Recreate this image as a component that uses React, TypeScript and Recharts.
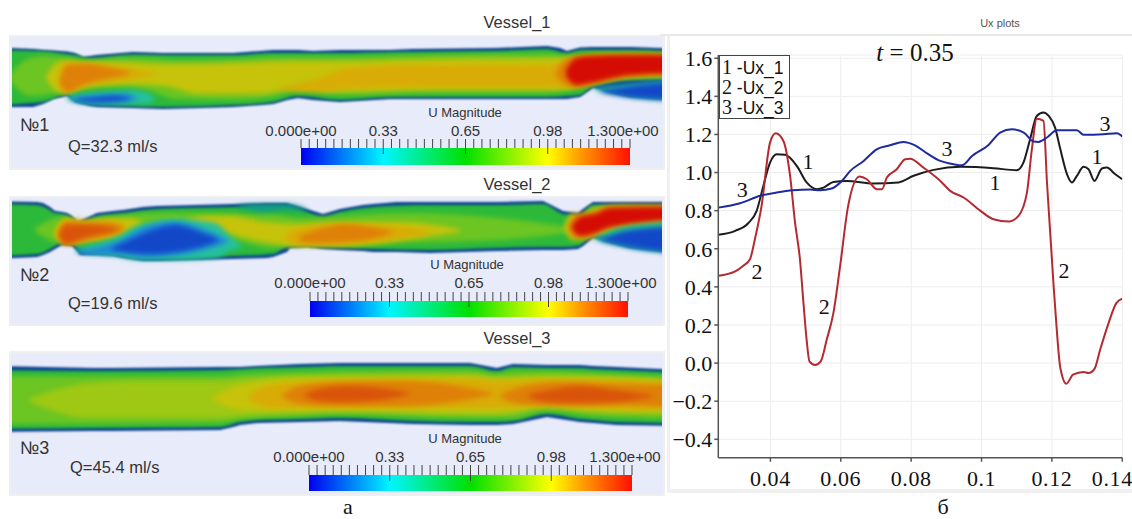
import React from 'react';
import {
  ComposedChart, Area, Line, XAxis, YAxis, CartesianGrid, ReferenceArea, ReferenceDot, Legend,
} from 'recharts';

// [t, Ux]
const ux1 = [
  [0.0252, 0.673], [0.03, 0.694], [0.0337, 0.734], [0.0361, 0.799], [0.038, 0.93], [0.0399, 1.052], [0.0418, 1.096],
  [0.0442, 1.093], [0.0475, 1.035], [0.0503, 0.948], [0.0532, 0.913], [0.0551, 0.921], [0.0579, 0.951], [0.0617, 0.956],
  [0.0693, 0.942], [0.0764, 0.948], [0.0807, 0.983], [0.0864, 1.014], [0.094, 1.03], [0.1034, 1.023], [0.11, 1.012],
  [0.1119, 1.052], [0.1138, 1.175], [0.1157, 1.297], [0.1176, 1.315], [0.1191, 1.297], [0.1209, 1.236], [0.1224, 1.122],
  [0.1243, 0.991], [0.1257, 0.948], [0.1271, 0.983], [0.129, 1.03], [0.1304, 1.017], [0.1321, 0.956], [0.1342, 1.021],
  [0.1356, 1.026], [0.138, 0.991], [0.14, 0.965],
];
const ux2 = [
  [0.0252, 0.458], [0.03, 0.481], [0.0323, 0.511], [0.0342, 0.545], [0.0356, 0.65], [0.0375, 0.825], [0.0399, 1.157],
  [0.0415, 1.206], [0.0437, 1.166], [0.0456, 0.983], [0.047, 0.738], [0.0484, 0.545], [0.0494, 0.315], [0.0503, 0.122],
  [0.0511, 0.009], [0.0527, -0.01], [0.0543, 0.009], [0.056, 0.122], [0.0579, 0.262], [0.0598, 0.507], [0.0621, 0.825],
  [0.0653, 0.979], [0.0674, 0.965], [0.0702, 0.913], [0.0717, 0.913], [0.0731, 0.974], [0.0759, 1.017], [0.0783, 1.07],
  [0.0797, 1.073], [0.0835, 1.026], [0.0883, 0.956], [0.0911, 0.904], [0.0949, 0.869], [0.0997, 0.799], [0.1034, 0.755],
  [0.1077, 0.743], [0.1105, 0.773], [0.1129, 0.895], [0.1143, 1.122], [0.1157, 1.283], [0.1176, 1.271], [0.1186, 0.948],
  [0.12, 0.545], [0.1205, 0.402], [0.1211, 0.245], [0.1224, -0.026], [0.1241, -0.108], [0.126, -0.061], [0.129, -0.047],
  [0.1304, -0.052], [0.1321, -0.03], [0.1337, 0.07], [0.1361, 0.21], [0.1383, 0.315], [0.14, 0.338],
];
const ux3 = [
  [0.0252, 0.816], [0.0314, 0.839], [0.0371, 0.878], [0.0418, 0.895], [0.0465, 0.907], [0.0513, 0.911], [0.0541, 0.907],
  [0.0574, 0.916], [0.0603, 0.956], [0.0627, 1.009], [0.0665, 1.061], [0.0702, 1.122], [0.074, 1.143], [0.0778, 1.161],
  [0.0811, 1.143], [0.0845, 1.101], [0.0883, 1.061], [0.092, 1.044], [0.0944, 1.038], [0.0973, 1.087], [0.102, 1.145],
  [0.1053, 1.21], [0.1086, 1.227], [0.112, 1.21], [0.1148, 1.163], [0.1162, 1.161], [0.1186, 1.184], [0.1214, 1.222],
  [0.1271, 1.222], [0.129, 1.198], [0.1347, 1.201], [0.1385, 1.206], [0.14, 1.189],
];
const seriesNames = ['1-Ux_1', '2-Ux_2', '3-Ux_3'];
const xTicks = [0.04, 0.06, 0.08, 0.1, 0.12, 0.14];
const yTicks = [1.6, 1.4, 1.2, 1.0, 0.8, 0.6, 0.4, 0.2, 0, -0.2, -0.4];
// curve number, t, Ux
const curveLabels: [string, number, number][] = [
  ['1', 0.0507, 1.059], ['3', 0.032, 0.912], ['3', 0.0902, 1.128], ['1', 0.1038, 0.949], ['1', 0.1328, 1.086],
  ['3', 0.1351, 1.259], ['2', 0.0362, 0.482], ['2', 0.0553, 0.298], ['2', 0.1234, 0.487],
];

const scaleLabels = ['0.000e+00', '0.33', '0.65', '0.98', '1.300e+00'];
const scaleTicks = [
  0, 0.0325, 0.065, 0.0975, 0.13, 0.1625, 0.195, 0.2275, 0.26, 0.2925, 0.325, 0.3575, 0.39, 0.4225, 0.455, 0.4875, 0.52,
  0.5525, 0.585, 0.6175, 0.65, 0.6825, 0.715, 0.7475, 0.78, 0.8125, 0.845, 0.8775, 0.91, 0.9425, 0.975, 1.0075, 1.04,
  1.0725, 1.105, 1.1375, 1.17, 1.2025, 1.235, 1.2675, 1.3,
];

// velocity field bands: [station, upper edge, lower edge]
const v1Wall = [[-8,47.5,107],[33,49,107],[43,50,104],[53,50.5,99],[67,51.5,96],[75,53,102],[83,57,104],[90,56,106],[97,55,107],[133,52,108],[163,53,109],[233,53,107],[273,50,104],[287,50,100],[298,50,98],[313,51,100],[340,50,102],[390,50,99],[413,49,99],[497,48,99],[547,46,99],[560,48,99],[567,51,99],[580,47.5,97],[593,47,88],[607,47,92],[630,47,97],[682,49,101]];
const v1Green = [[-8,50,105],[43,51,102],[60,53,96],[67,54,94],[75,55,100],[90,58,104],[133,54.5,106],[163,55,107],[233,55,105],[273,53,102],[298,53,96],[340,53,100],[390,52,97],[497,51,97],[547,49,97],[567,53,96],[580,50,95],[593,50,86],[630,50,80],[682,52,79]];
const v1Lime = [[8,76,78],[30,58,96],[45,56,95],[60,57,93],[67,58,93],[83,61,90],[120,58,88],[150,58,91],[175,60,99],[233,59,100],[273,57,97],[298,57,91],[340,57,95],[430,55,93],[547,54,93],[567,56,91],[593,53,84],[630,53,78],[682,54,77]];
const v1Yellow = [[46,76,78],[58,62,92],[67,60,93],[83,62,88],[120,62,84],[165,64,86],[200,64,94],[260,62,94],[298,61,88],[340,61,92],[430,59,90],[547,58,90],[575,57,87],[593,55,83],[630,54,77],[682,55,76]];
const v1Amber = [[58,80,83],[65,63,93],[70,63,91],[85,63,86],[120,67,81],[155,73,75]];
const v1AmberMain = [[278,88,90],[320,78,92],[350,68,88],[430,65,87],[547,65,87],[570,60,88],[593,57,84],[630,56,76],[682,56,75]];
const v1Orange = [[60,80,83],[67,65,92],[85,64,84],[105,67,79],[130,72,74]];
const v1OrangeRight = [[556,72,76],[566,59,85],[575,57,87],[593,56,83],[630,55,76],[682,55,74]];
const v1Red = [[566,70,76],[576,58,85],[590,56,83],[630,55,75],[682,55,73]];
const v1Cyan = [[66,97,98],[80,94,103],[100,92,104],[130,90,104],[145,92,104],[155,98,100]];
const v1Azure = [[70,98,100],[85,96,102],[100,95,103],[125,94,102],[138,98,99]];
const v1Blue = [[76,99,101],[90,98,102],[115,96,101],[130,98,99]];
const v1RightCyan = [[594,88,90],[630,84,97],[682,79,101]];
const v1RightBlue = [[600,91,92],[630,86,97],[682,81,100]];

const v2Wall = [[-8,201,259],[37,202,257],[43,203,255],[50,207,252],[55,211,249],[62,212,245],[67,213,245],[72,216,246],[78,222,252],[80,221,255],[97,213,255],[113,211,256],[123,210,258],[143,207,261],[157,206,261],[233,204,259],[267,203,258],[273,203,257],[287,203,252],[290,204,248],[307,209,247],[323,214,249],[340,209,250],[363,205,251],[373,204,252],[397,202,252],[430,202,253],[497,202,251],[543,201,250],[563,211,250],[578,213,249],[583,209,246],[593,202,238],[607,202,242],[630,202,248],[682,202,254]];
const v2Green = [[-8,204,256],[37,205,254],[50,210,249],[55,213,246],[62,214,242],[72,218,243],[78,224,249],[97,216,252],[123,213,255],[157,209,258],[233,207,256],[273,206,254],[290,207,245],[307,212,244],[323,217,246],[340,212,247],[373,207,249],[430,205,250],[497,205,248],[543,204,247],[563,214,247],[578,216,246],[593,205,235],[630,205,240],[682,205,240]];
const v2Lime = [[34,229,231],[62,217,243],[78,226,241],[100,220,240],[123,216,240],[160,213,240],[200,213,240],[240,214,242],[270,214,248],[300,218,246],[340,216,246],[400,213,243],[500,218,240],[575,228,232]];
const v2Yellow = [[54,232,234],[66,218,244],[85,220,242],[110,218,238],[128,218,230],[142,222,224]];
const v2YellowMid = [[185,221,223],[205,216,228],[230,216,234],[265,222,242],[300,224,246],[340,222,246],[400,222,240],[460,229,232]];
const v2Amber = [[56,233,235],[66,220,244],[85,222,241],[108,221,237],[125,224,231]];
const v2AmberMid = [[285,237,239],[298,228,245],[340,224,244],[385,225,241],[430,231,234]];
const v2Orange = [[58,233,236],[66,222,244],[85,223,240],[105,223,236],[122,226,232]];
const v2OrangeMid = [[300,236,242],[320,229,243],[345,224,242],[375,228,238],[392,231,233]];
const v2Deep = [[60,232,238],[66,225,244],[83,225,238],[100,226,234],[115,228,231]];
const v2Cyan = [[76,250,252],[90,245,254],[115,238,256],[140,225,260],[175,219,260],[215,223,258],[232,238,250],[242,246,248]];
const v2Azure = [[78,250,253],[95,248,254],[120,240,254],[145,227,257],[175,222,255],[210,232,248],[228,240,242]];
const v2Blue = [[112,248,250],[125,242,252],[150,231,254],[175,225,252],[200,232,247],[218,239,241]];
const v2TopTeal = [[238,205,207],[265,204,212],[287,204,210],[307,209,211]];
const v2RightYellow = [[564,226,228],[572,213,240],[580,215,240],[593,208,238],[620,205,228],[682,206,222]];
const v2RightOrange = [[568,226,228],[575,215,238],[590,213,236],[610,207,228],[682,206,220]];
const v2RightRed = [[572,226,228],[580,217,236],[595,214,233],[610,208,227],[682,207,219]];
const v2RightCyan = [[595,238,240],[630,226,248],[682,222,254]];
const v2RightBlue = [[600,239,240],[630,230,247],[682,226,253]];

const v3Wall = [[-8,366,432],[93,368,431],[113,368,431],[220,367,430],[233,367,427],[240,367,425],[257,366,423],[300,364,422],[340,363,421],[413,363,424],[470,363,425],[497,368,425],[513,364,424],[547,365,417],[580,365,422],[593,366,423],[617,367,425],[682,370,426]];
const v3Green = [[-8,370,429],[93,371,428],[220,370,427],[240,369,422],[257,368,420],[300,367,419],[340,366,418],[413,366,421],[470,366,422],[497,371,422],[513,367,421],[547,368,414],[580,368,419],[593,369,420],[617,370,422],[682,373,423]];
const v3Lime = [[-8,376,424],[93,376,424],[220,376,423],[240,374,419],[300,372,416],[340,371,414],[470,370,418],[497,374,418],[513,371,418],[547,371,411],[593,373,416],[682,377,419]];
const v3YellowGreen = [[30,398,402],[90,383,418],[140,381,418],[220,381,418],[245,379,416],[300,376,413],[340,375,412],[470,374,415],[497,377,415],[547,375,408],[593,376,412],[682,380,414]];
const v3Yellow = [[212,397,399],[240,385,410],[300,378,411],[340,378,410],[470,377,412],[497,379,412],[547,378,406],[593,378,410],[682,382,412]];
const v3Amber = [[248,396,398],[270,385,408],[340,380,408],[470,379,408],[500,381,408],[547,380,405],[593,380,408],[682,383,410]];
const v3Orange = [[282,395,397],[300,386,404],[340,382,406],[400,381,406],[445,384,403],[492,393,395]];
const v3OrangeRight = [[500,395,397],[520,387,404],[560,382,406],[620,384,405],[682,385,408]];
const v3Deep = [[305,394,396],[320,389,401],[345,386,402],[380,388,400],[410,393,394]];
const v3DeepRight = [[528,395,397],[550,390,402],[580,386,403],[615,390,402],[652,395,397]];

const C = {
  navy: '#0b3f96', green: '#2cb93a', lime: '#6cc522', yg: '#9ec814', yellow: '#c6c30a', amber: '#d9ab06',
  orange: '#df8008', deep: '#d9540a', red: '#d40c04', cyan: '#25c0a0', azure: '#1f86d8', blue: '#1248c8', teal: '#129a8a',
};

const vessels = [
  {
    title: 'Vessel_1', no: '№1', q: 'Q=32.3 ml/s',
    top: 37, bottom: 166, titleY: 22, noY: 125, qY: 146, qX: 68, magX: 465, magY: 112,
    bar: { x1: 301, x2: 630, y1: 148, y2: 165, tickTop: 139, labelY: 131 },
    layers: [
      [v1Wall, C.navy], [v1Green, C.green], [v1Lime, C.lime], [v1Yellow, C.yellow], [v1Amber, C.amber], [v1AmberMain, C.amber],
      [v1Orange, C.orange], [v1OrangeRight, C.orange], [v1Red, C.red], [v1Cyan, C.cyan], [v1Azure, C.azure], [v1Blue, C.blue],
      [v1RightCyan, C.cyan], [v1RightBlue, C.blue],
    ],
  },
  {
    title: 'Vessel_2', no: '№2', q: 'Q=19.6 ml/s',
    top: 198, bottom: 322, titleY: 184, noY: 275, qY: 303, qX: 68, magX: 467, magY: 264,
    bar: { x1: 310, x2: 628, y1: 301, y2: 317, tickTop: 292, labelY: 283 },
    layers: [
      [v2Wall, C.navy], [v2Green, C.green], [v2Lime, C.lime], [v2TopTeal, C.teal], [v2Yellow, C.yellow], [v2YellowMid, C.yellow],
      [v2Amber, C.amber], [v2AmberMid, C.amber], [v2Orange, C.orange], [v2OrangeMid, C.orange], [v2Deep, C.deep],
      [v2Cyan, C.cyan], [v2Azure, C.azure], [v2Blue, C.blue],
      [v2RightYellow, C.yellow], [v2RightOrange, C.orange], [v2RightRed, C.red], [v2RightCyan, C.cyan], [v2RightBlue, C.blue],
    ],
  },
  {
    title: 'Vessel_3', no: '№3', q: 'Q=45.4 ml/s',
    top: 353, bottom: 492, titleY: 338, noY: 448, qY: 467, qX: 70, magX: 465, magY: 438,
    bar: { x1: 309, x2: 632, y1: 475, y2: 491, tickTop: 465, labelY: 457 },
    layers: [
      [v3Wall, C.navy], [v3Green, C.green], [v3Lime, C.lime], [v3YellowGreen, C.yg], [v3Yellow, C.yellow], [v3Amber, C.amber],
      [v3Orange, C.orange], [v3OrangeRight, C.orange], [v3Deep, C.deep], [v3DeepRight, C.deep],
    ],
  },
] as any[];

const SANS = '"Liberation Sans", Arial, sans-serif';
const SERIF = '"Liberation Serif", "Times New Roman", serif';

const Txt = ({ x, y, size, font = SANS, color = '#333', center = false, lh = 1, children }: any) => (
  <div style={{
    position: 'absolute', left: x, top: y, fontSize: size, fontFamily: font, color, lineHeight: lh, whiteSpace: 'nowrap',
    transform: center ? 'translate(-50%,-50%)' : 'translateY(-50%)',
  }}>{children}</div>
);

const ColorBar = ({ bar, id }: any) => {
  const padX = 40;
  const w = bar.x2 - bar.x1;
  const chartTop = bar.labelY - 12;
  return (
    <div style={{ position: 'absolute', left: bar.x1 - padX, top: chartTop }}>
      <ComposedChart
        width={w + padX * 2}
        height={bar.y2 - chartTop}
        data={scaleTicks.map((t) => ({ t }))}
        margin={{ top: 0, right: padX, bottom: 0, left: padX }}
      >
        <defs>
          <linearGradient id={id} x1="0" y1="0" x2="1" y2="0">
            <stop offset="0" stopColor="#0000f0" />
            <stop offset="0.25" stopColor="#00f5ff" />
            <stop offset="0.5" stopColor="#00e000" />
            <stop offset="0.75" stopColor="#ffff00" />
            <stop offset="0.85" stopColor="#ff9a00" />
            <stop offset="1" stopColor="#ff1000" />
          </linearGradient>
        </defs>
        <YAxis hide domain={[0, 1]} type="number" allowDataOverflow />
        <ReferenceArea x1={0} x2={1.3} y1={0} y2={1} fill={`url(#${id})`} fillOpacity={1} stroke="none" ifOverflow="visible" />
        <XAxis
          type="number"
          dataKey="t"
          orientation="top"
          domain={[0, 1.3]}
          allowDataOverflow
          ticks={scaleTicks}
          interval={0}
          height={bar.y1 - chartTop}
          axisLine={false}
          tickLine={false}
          tick={(p: any) => {
            const major = p.index % 10 === 0;
            const long = major && p.index > 0 && p.index < 40;
            return (
              <g>
                <line x1={p.x} x2={p.x} y1={bar.tickTop - chartTop} y2={bar.y1 - chartTop + (long ? 6 : 0)} stroke="#444" strokeWidth={1} />
                {major && (
                  <text x={p.x - (p.index === 40 ? 7 : 0)} y={17} textAnchor="middle" fontSize={15} fontFamily={SANS} fill="#333">
                    {scaleLabels[p.index / 10]}
                  </text>
                )}
              </g>
            );
          }}
        />
      </ComposedChart>
    </div>
  );
};

const softness = (k: number) => (k === 0 ? 'heat-edge' : k === 1 ? 'heat-rim' : 'heat-core');

const VesselPanel = ({ v, i }: any) => (
  <>
    <div style={{ position: 'absolute', left: 9, top: v.top - 2, width: 656, height: v.bottom - v.top + 6, background: '#e8ebfa', border: '2px solid #efefef', boxSizing: 'border-box' }} />
    <div style={{ position: 'absolute', left: 12, top: v.top, width: 650, height: v.bottom - v.top, overflow: 'hidden' }}>
      <div style={{ position: 'absolute', left: -20, top: 0 }}>
        <ComposedChart width={690} height={v.bottom - v.top} margin={{ top: 0, right: 0, bottom: 0, left: 0 }}>
          <XAxis hide type="number" dataKey={(d: number[]) => d[0]} domain={[-8, 682]} allowDuplicatedCategory={false} />
          <YAxis hide type="number" reversed domain={[v.top, v.bottom]} />
          {v.layers.map(([pts, fill]: any, k: number) => (
            <Area
              key={k}
              className={softness(k)}
              data={pts}
              dataKey={(d: number[]) => [d[1], d[2]]}
              type={k === 0 ? 'linear' : 'monotone'}
              stroke="none"
              fill={fill}
              fillOpacity={1}
              dot={false}
              activeDot={false}
              isAnimationActive={false}
            />
          ))}
        </ComposedChart>
      </div>
    </div>
    <Txt x={517} y={v.titleY} size={16.5} center>{v.title}</Txt>
    <Txt x={20} y={v.noY} size={18}>{v.no}</Txt>
    <Txt x={v.qX} y={v.qY} size={16.5}>{v.q}</Txt>
    <Txt x={v.magX} y={v.magY} size={13} center>U Magnitude</Txt>
    <ColorBar bar={v.bar} id={`cb${i}`} />
  </>
);

const UxLegend = ({ payload }: any) => (
  <div style={{ width: 71, height: 64, boxSizing: 'border-box', border: '1.5px solid #444', background: '#fff', padding: '1px 0 0 2px' }}>
    {payload.map((p: any) => {
      const [n, rest] = p.value.split('-');
      return (
        <div key={p.value} style={{ height: 20, lineHeight: '20px', color: '#111', whiteSpace: 'nowrap', fontSize: 17.5, fontFamily: SANS }}>
          <span style={{ fontFamily: SERIF, fontSize: 20 }}>{n}</span> -{rest}
        </div>
      );
    })}
  </div>
);

const UxChart = () => (
  <div style={{ position: 'absolute', left: 660, top: 30 }}>
    <ComposedChart width={472} height={470} margin={{ top: 25, right: 9.7, bottom: 0, left: 0 }}>
      <CartesianGrid stroke="#ededed" strokeWidth={1} />
      <XAxis
        type="number"
        dataKey={(d: number[]) => d[0]}
        domain={[0.0252, 0.14]}
        ticks={xTicks}
        interval={0}
        allowDataOverflow
        height={42.3}
        axisLine={{ stroke: '#555', strokeWidth: 1.5 }}
        tickLine={{ stroke: '#555', strokeWidth: 1.5 }}
        tickSize={4}
        tick={(p: any) => (
          <text x={p.x - (p.payload.value === 0.14 ? 10 : 0)} y={p.y + 22} textAnchor="middle" fontSize={22} fontFamily={SERIF} fill="#111" letterSpacing={0.6}>
            {p.payload.value}
          </text>
        )}
      />
      <YAxis
        type="number"
        domain={[-0.4966, 1.617]}
        ticks={yTicks}
        interval={0}
        allowDataOverflow
        width={58.3}
        axisLine={{ stroke: '#555', strokeWidth: 1.5 }}
        tickLine={{ stroke: '#555', strokeWidth: 1.5 }}
        tickSize={4}
        tickFormatter={(v: number) => v.toFixed(1).replace('-', '\u2212')}
        tick={{ fontSize: 22, fontFamily: SERIF, fill: '#111' }}
      />
      <Line name={seriesNames[0]} data={ux1} dataKey={(d: number[]) => d[1]} type="monotone" stroke="#1c1c1c" strokeWidth={2} dot={false} activeDot={false} isAnimationActive={false} />
      <Line name={seriesNames[1]} data={ux2} dataKey={(d: number[]) => d[1]} type="monotone" stroke="#b42a30" strokeWidth={2} dot={false} activeDot={false} isAnimationActive={false} />
      <Line name={seriesNames[2]} data={ux3} dataKey={(d: number[]) => d[1]} type="monotone" stroke="#1f2a9e" strokeWidth={2} dot={false} activeDot={false} isAnimationActive={false} />
      {curveLabels.map(([label, t, u], i) => (
        <ReferenceDot
          key={i}
          x={t}
          y={u}
          r={0}
          stroke="none"
          fill="none"
          ifOverflow="visible"
          label={{ value: label, position: 'center', fontSize: 22, fontFamily: SERIF, fill: '#111' }}
        />
      ))}
      <Legend
        layout="horizontal"
        verticalAlign="middle"
        align="center"
        content={<UxLegend />}
        wrapperStyle={{ position: 'absolute', left: 59, top: 25, width: 71, height: 64 }}
      />
    </ComposedChart>
  </div>
);

export default function App() {
  return (
    <div style={{ position: 'absolute', left: 0, top: 0, width: 1132, height: 519, background: '#fff', overflow: 'hidden' }}>
      <style>{`.heat-edge{filter:blur(0.8px)} .heat-rim{filter:blur(1.5px)} .heat-core{filter:blur(2.5px)}`}</style>
      {vessels.map((v, i) => <VesselPanel key={v.title} v={v} i={i} />)}

      <div style={{ position: 'absolute', left: 660, top: 34, width: 472, height: 2, background: '#e9e9e9' }} />
      <div style={{ position: 'absolute', left: 667, top: 36, width: 3, height: 456, background: '#f0f0f0' }} />
      <div style={{ position: 'absolute', left: 667, top: 489, width: 465, height: 4, background: '#f0f0f0' }} />
      <Txt x={1000} y={23} size={11} color="#555" center>Ux plots</Txt>
      <UxChart />
      <Txt x={915} y={52} size={25} font={SERIF} color="#111" center><i>t</i> = 0.35</Txt>
      <Txt x={348} y={506.5} size={22} lh={0.75} font={SERIF} color="#111" center>а</Txt>
      <Txt x={943} y={506.5} size={22} lh={0.75} font={SERIF} color="#111" center>б</Txt>
    </div>
  );
}
